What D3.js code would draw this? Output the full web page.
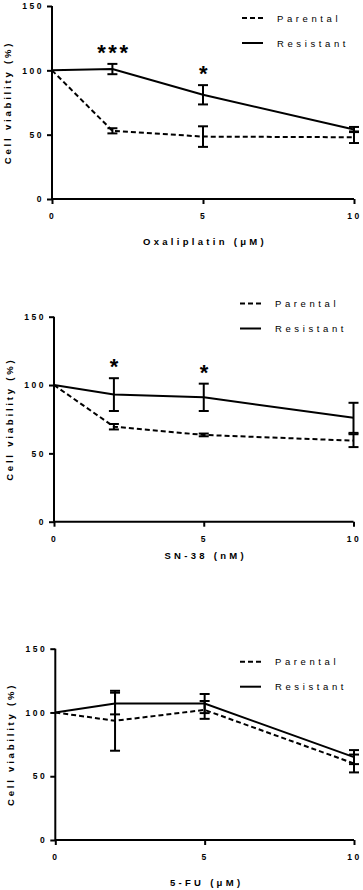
<!DOCTYPE html>
<html><head><meta charset="utf-8">
<script src="https://cdn.jsdelivr.net/npm/d3@7"></script>
<style>html,body{margin:0;padding:0;background:#fff;}svg{display:block;}</style>
</head><body>
<script>
// ---- data ----
const doses = [0, 2, 5, 10];
const xTicks = [0, 5, 10];
const yTicks = [0, 50, 100, 150];
const seriesNames = ["Parental", "Resistant"];

const oxaliParental = [100, 53, 48.5, 48];
const oxaliParentalErr = [0, 2, 8, 4.5];
const oxaliResistant = [100, 101, 81, 54];
const oxaliResistantErr = [0, 4, 7.5, 2];
const oxaliStars = [{dose: 2, label: "***"}, {dose: 5, label: "*"}];

const sn38Parental = [100, 69.5, 63.5, 59.3];
const sn38ParentalErr = [0, 2, 1, 4.7];
const sn38Resistant = [100, 93, 91, 76];
const sn38ResistantErr = [0, 12, 10, 11];
const sn38Stars = [{dose: 2, label: "*"}, {dose: 5, label: "*"}];

const fuParental = [100, 93.5, 102, 60];
const fuParentalErr = [0, 23.5, 7, 7];
const fuResistant = [100, 107, 107, 65];
const fuResistantErr = [0, 8.5, 7.5, 5.5];
const fuStars = [];

const xTitles = ["Oxaliplatin (\u03bcM)", "SN-38 (nM)", "5-FU (\u03bcM)"];
const yTitle = "Cell viability (%)";

// ---- layout ----
const panels = [
  {par: oxaliParental, parE: oxaliParentalErr, res: oxaliResistant, resE: oxaliResistantErr, stars: oxaliStars,
   x0: 52, x1: 354, y0: 199, y1: 6, titleDy: 43, legY: 18, legX: 242},
  {par: sn38Parental, parE: sn38ParentalErr, res: sn38Resistant, resE: sn38ResistantErr, stars: sn38Stars,
   x0: 54, x1: 353.5, y0: 521.7, y1: 316.7, titleDy: 35, legY: 303.5, legX: 240},
  {par: fuParental, parE: fuParentalErr, res: fuResistant, resE: fuResistantErr, stars: fuStars,
   x0: 55.3, x1: 354, y0: 840, y1: 648.7, titleDy: 43, legY: 661.7, legX: 240}
];

const W = 363, H = 890;
const font = "'Liberation Sans', Arial, Helvetica, sans-serif";
const svg = d3.select("body").append("svg").attr("width", W).attr("height", H);
svg.append("rect").attr("width", W).attr("height", H).attr("fill", "#fff");

panels.forEach((p, i) => {
  const x = d3.scaleLinear().domain([0, 10]).range([p.x0, p.x1]);
  const y = d3.scaleLinear().domain([0, 150]).range([p.y0, p.y1]);
  const g = svg.append("g");

  // axes
  const xa = g.append("g").attr("transform", `translate(0,${p.y0})`)
    .call(d3.axisBottom(x).tickValues(xTicks).tickSize(5).tickPadding(9).tickFormat(d3.format("d")));
  const ya = g.append("g").attr("transform", `translate(${p.x0},0)`)
    .call(d3.axisLeft(y).tickValues(yTicks).tickSize(5).tickPadding(3).tickFormat(d3.format("d")));
  [xa, ya].forEach(a => {
    a.select(".domain").attr("stroke", "#000").attr("stroke-width", 2);
    a.selectAll(".tick line").attr("stroke", "#000").attr("stroke-width", 2);
    a.selectAll(".tick text").attr("fill", "#000").style("font-family", font)
      .style("font-size", "8.5px").style("font-weight", "bold").style("letter-spacing", "2.5px");
  });
  ya.select(".domain").attr("d", `M0,${p.y0}V${p.y1}`);
  xa.select(".domain").attr("d", `M${p.x0},0H${p.x1}`);

  // axis titles
  g.append("text").attr("x", (p.x0 + p.x1) / 2 + 2).attr("y", p.y0 + p.titleDy)
    .attr("text-anchor", "middle").attr("dominant-baseline", "middle")
    .style("font-family", font).style("font-size", "9.5px").style("font-weight", "bold")
    .style("letter-spacing", "3.3px").text(xTitles[i]);
  g.append("text")
    .attr("transform", `translate(${p.x0 - 44},${(p.y0 + p.y1) / 2}) rotate(-90)`)
    .attr("text-anchor", "middle").attr("dominant-baseline", "middle")
    .style("font-family", font).style("font-size", "9.5px").style("font-weight", "bold")
    .style("letter-spacing", "2.8px").text(yTitle);

  // series
  const series = [
    {vals: p.par, errs: p.parE, dash: "5,3"},
    {vals: p.res, errs: p.resE, dash: null}
  ];
  series.forEach(s => {
    const pts = doses.map((d, k) => ({d, v: s.vals[k], e: s.errs[k]}));
    g.append("path").datum(pts)
      .attr("d", d3.line().x(q => x(q.d)).y(q => y(q.v)))
      .attr("fill", "none").attr("stroke", "#000").attr("stroke-width", 2)
      .attr("stroke-dasharray", s.dash);
    const eb = g.selectAll(null).data(pts.filter(q => q.e > 0)).enter().append("g");
    eb.append("line").attr("x1", q => x(q.d)).attr("x2", q => x(q.d))
      .attr("y1", q => y(q.v - q.e)).attr("y2", q => y(q.v + q.e))
      .attr("stroke", "#000").attr("stroke-width", 2);
    [1, -1].forEach(sg => {
      eb.append("line").attr("x1", q => x(q.d) - 5).attr("x2", q => x(q.d) + 5)
        .attr("y1", q => y(q.v + sg * q.e)).attr("y2", q => y(q.v + sg * q.e))
        .attr("stroke", "#000").attr("stroke-width", 2);
    });
  });

  // significance stars
  p.stars.forEach(st => {
    const k = doses.indexOf(st.dose);
    const top = Math.max(p.res[k] + p.resE[k], p.par[k] + p.parE[k]);
    g.append("text").attr("x", x(st.dose) + 1.5).attr("y", y(top) - 4)
      .attr("text-anchor", "middle")
      .style("font-family", font).style("font-size", "22px").style("font-weight", "bold")
      .style("letter-spacing", "2.5px").text(st.label);
  });

  // legend
  seriesNames.forEach((name, k) => {
    const ly = p.legY + k * 25;
    g.append("line").attr("x1", p.legX).attr("x2", p.legX + 21).attr("y1", ly).attr("y2", ly)
      .attr("stroke", "#000").attr("stroke-width", 2).attr("stroke-dasharray", k === 0 ? "5,3" : null);
    g.append("text").attr("x", p.legX + 35).attr("y", ly + 1).attr("dominant-baseline", "middle")
      .style("font-family", font).style("font-size", "9.5px").style("letter-spacing", "3.6px").text(name);
  });
});
</script>
</body></html>
